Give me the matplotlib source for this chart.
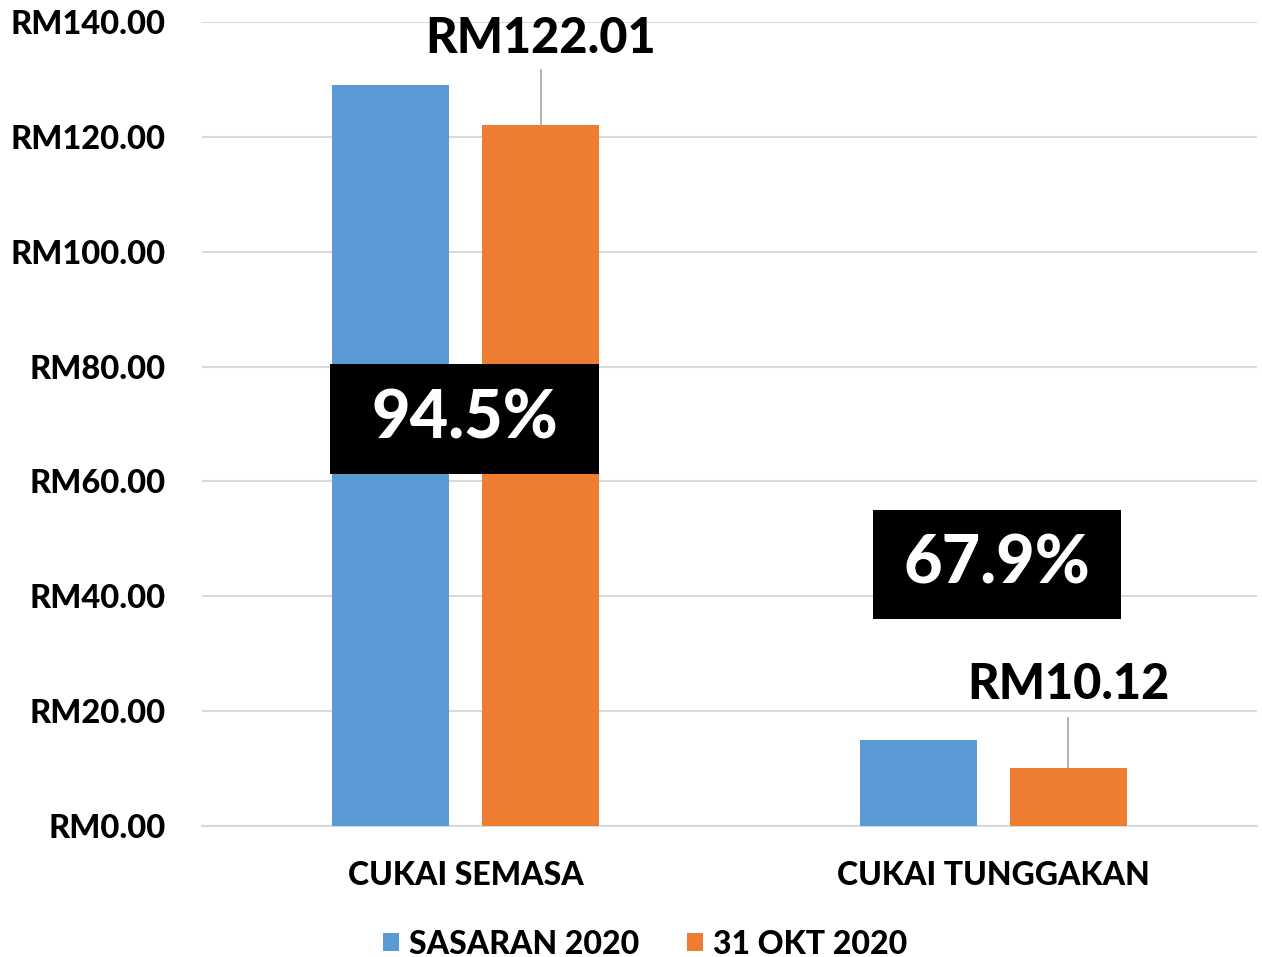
import matplotlib
matplotlib.use("Agg")
import matplotlib.pyplot as plt
from matplotlib.patches import Rectangle
import numpy as np

categories = ["CUKAI SEMASA", "CUKAI TUNGGAKAN"]
series_names = ["SASARAN 2020", "31 OKT 2020"]
sasaran = [129.11, 14.90]
okt = [122.01, 10.12]
value_labels = ["RM122.01", "RM10.12"]
pct_labels = ["94.5%", "67.9%"]
pct_y = [70.87, 45.53]
pct_x = [-0.002, 1.007]
yticks = [0, 20, 40, 60, 80, 100, 120, 140]
ytick_labels = ["RM%.2f" % v for v in yticks]

FONT = ["Lato", "DejaVu Sans"]
plt.rcParams["font.family"] = FONT
WT = "black"

blue = "#5B9BD5"
orange = "#ED7D31"

fig = plt.figure(figsize=(12.62, 9.57), dpi=100)
ax = fig.add_axes([202/1262, (957-826)/957, (1257-202)/1262, (826-22)/957])

x = np.arange(len(categories))
w = 0.222
off = 0.142
ax.bar(x - off, sasaran, w, color=blue, label=series_names[0], zorder=3)
ax.bar(x + off, okt, w, color=orange, label=series_names[1], zorder=3)

ax.set_xlim(-0.5, 1.5)
ax.set_ylim(0, 140)
ax.set_yticks(yticks)
ax.set_yticklabels(ytick_labels, fontsize=23.5, fontweight=WT)
ax.set_xticks(x)
ax.set_xticklabels(categories, fontsize=23, fontweight=WT)
ax.tick_params(axis="both", length=0)
ax.tick_params(axis="y", pad=26)
ax.tick_params(axis="x", pad=25)
ax.grid(axis="y", color="#d9d9d9", linewidth=1.5, zorder=0)
for s in ["top", "right", "left"]:
    ax.spines[s].set_visible(False)
ax.spines["bottom"].set_color("#d9d9d9")
ax.spines["bottom"].set_linewidth(1.5)

# value labels with leader lines
lab_off = [15.2, 14.6]
line_off = [9.6, 8.7]
for i in range(len(categories)):
    top = okt[i]
    ax.plot([x[i] + off, x[i] + off], [top, top + line_off[i]], color="#a6a6a6", lw=1.2, zorder=4)
    ax.text(x[i] + off, top + lab_off[i], value_labels[i], ha="center", va="center",
            fontsize=35, fontweight=WT, color="black", zorder=5, clip_on=False)

# percentage boxes
box_w = [0.51, 0.47]
box_h = 19.1
for i in range(len(categories)):
    ax.add_patch(Rectangle((pct_x[i] - box_w[i] / 2, pct_y[i] - box_h / 2), box_w[i], box_h,
                           facecolor="black", edgecolor="none", zorder=6))
    ax.text(pct_x[i], pct_y[i], pct_labels[i], ha="center", va="center",
            fontsize=48, fontweight=WT, color="white", zorder=7)

leg = fig.legend(loc="center", bbox_to_anchor=(645/1262, 1 - 944/957), ncol=2,
                 frameon=False, fontsize=23, handlelength=0.5, handleheight=0.5,
                 columnspacing=1.5, handletextpad=0.3)
for t in leg.get_texts():
    t.set_fontweight(WT)

fig.savefig("out.png", dpi=100)
